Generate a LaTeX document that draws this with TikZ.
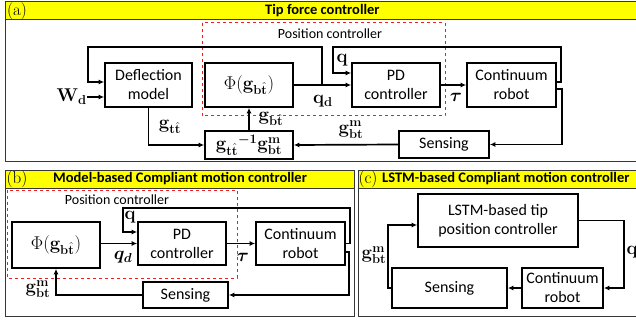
\RequirePackage{fix-cm}
\documentclass[tikz,border=0pt]{standalone}
\usepackage{amsmath,bm}
\usepackage[no-math]{fontspec}
\newfontfamily\carlito{Carlito}
\usetikzlibrary{arrows.meta,calc}
\definecolor{HeadYellow}{RGB}{255,255,0}
\definecolor{FrameGray}{RGB}{55,55,55}
\definecolor{PosRed}{RGB}{240,30,30}
\tikzset{
  blk/.style={draw=black,line width=1.7pt,align=center,inner sep=0pt,
    font=\carlito\fontsize{16}{19}\selectfont},
  mblk/.style={blk,font=\fontsize{18.5}{21}\selectfont},
  lab/.style={inner sep=0pt,font=\fontsize{18.5}{21}\selectfont},
  arr/.style={draw=black,line width=1.7pt,-{Latex[length=5.5pt,width=5pt]}},
}
\tikzset{frame/.style={draw=FrameGray,line width=1pt}, bar/.style={fill=HeadYellow,draw=FrameGray,line width=1pt},
  head/.style={anchor=west,inner sep=0pt,font=\carlito\bfseries\fontsize{14.5}{16}\selectfont},
  tag/.style={inner sep=0pt,font=\fontsize{17}{18}\selectfont},
  poscon/.style={draw=PosRed,dashed,line width=1pt},
  sub/.style={inner sep=0pt,font=\carlito\fontsize{14}{16}\selectfont}}

\begin{document}
\begin{tikzpicture}[x=1pt,y=-1pt]
\useasboundingbox (0,0) rectangle (636,323);
\draw[frame] (5,2) rectangle (640,161);
\draw[bar] (5,2) rectangle (640,20);
\node[tag] (tagA) at (17,11) {(a)};
\node[head] (headA) at (265,11) {Tip force controller};
\draw[poscon] (202,23) rectangle (445,116);
\node[sub] (posA) at (330,34) {Position controller};
\node[blk,minimum width=87pt,minimum height=44pt] (defl) at (148.5,85) {Deflection\\model};
\node[mblk,minimum width=88pt,minimum height=44pt] (phiA) at (249,85) {$\Phi(\mathbf{g}_{\mathbf{b}\hat{\mathbf{t}}})$};
\node[blk,minimum width=88pt,minimum height=44pt] (pdA) at (396,85) {PD\\controller};
\node[blk,minimum width=89pt,minimum height=44pt] (robA) at (511.5,85) {Continuum\\robot};
\node[mblk,minimum width=88pt,minimum height=28pt] (invA) at (249,145) {${\mathbf{g}_{\mathbf{t}\hat{\mathbf{t}}}}^{\boldsymbol{-1}}\mathbf{g}^{\mathbf{m}}_{\mathbf{bt}}$};
\node[blk,minimum width=90pt,minimum height=27pt] (sensA) at (444,144.5) {Sensing};
\node[lab,anchor=east] (wd) at (87,97) {$\mathbf{W}_{\mathbf{d}}$};
\coordinate (splitA) at (322,85);
\coordinate (loopA) at (88,47);
\coordinate (qtopA) at (333,47);
\draw[arr] (wd.east) -- (wd.east -| defl.west);
\draw[arr] (splitA) |- (loopA) |- ([yshift=3pt]defl.west);
\draw[arr] (defl.south) |- (invA.west);
\draw[arr] (invA.north) -- (phiA.south);
\draw[arr] (phiA.east) -- (pdA.west);
\draw[arr] (pdA.east) -- (robA.west);
\draw[arr] ([yshift=3pt]robA.east) -- ++(4,0) |- (qtopA) |- ([yshift=12pt]pdA.west);
\draw[arr] ([yshift=-4pt]robA.east) -- ++(5,0) |- (sensA.east);
\draw[arr] (sensA.west) -- (invA.east);
\node[lab] (gttA) at (170,127) {$\mathbf{g}_{\mathbf{t}\hat{\mathbf{t}}}$};
\node[lab] (gbtA) at (271,119) {$\mathbf{g}_{\mathbf{b}\hat{\mathbf{t}}}$};
\node[lab] (gmA) at (351,130) {$\mathbf{g}^{\mathbf{m}}_{\mathbf{bt}}$};
\node[lab] (qdA) at (323,101) {$\mathbf{q}_{\mathbf{d}}$};
\node[lab] (qA) at (342,60) {$\mathbf{q}$};
\node[lab] (tauA) at (456,97) {$\boldsymbol{\tau}$};
\draw[frame] (5,170) rectangle (354,316);
\draw[bar] (5,170) rectangle (354,188);
\node[tag] (tagB) at (17,179) {(b)};
\node[head] (headB) at (53,179) {Model-based Compliant motion controller};
\draw[poscon] (7,190) rectangle (237,278);
\node[sub] (posB) at (117,200) {Position controller};
\node[mblk,minimum width=88pt,minimum height=46pt] (phiB) at (56,245) {$\Phi(\mathbf{g}_{\mathbf{b}\hat{\mathbf{t}}})$};
\node[blk,minimum width=88pt,minimum height=43pt] (pdB) at (182,243.5) {PD\\controller};
\node[blk,minimum width=89pt,minimum height=43pt] (robB) at (300.5,243.5) {Continuum\\robot};
\node[blk,minimum width=85pt,minimum height=26pt] (sensB) at (185.5,295) {Sensing};
\coordinate (qtopB) at (123,208);
\draw[arr] (phiB.east |- pdB.west) -- (pdB.west);
\draw[arr] (pdB.east) -- (robB.west);
\draw[arr] (robB.east) -- ++(4,0) |- (qtopB) |- ([yshift=11.5pt]pdB.west);
\draw[arr] ([yshift=-8.5pt]robB.east) -- ++(3,0) |- (sensB.east);
\draw[arr] (sensB.west) -| (phiB.south);
\node[lab] (qdB) at (123,257) {$\bm{q}_{\bm{d}}$};
\node[lab] (qB) at (130,217) {$\mathbf{q}$};
\node[lab] (tauB) at (243,257) {$\boldsymbol{\tau}$};
\node[lab] (gmB) at (38,289) {$\mathbf{g}^{\mathbf{m}}_{\mathbf{bt}}$};
\draw[frame] (358,170) rectangle (640,316);
\draw[bar] (358,170) rectangle (640,188);
\node[tag] (tagC) at (368,179) {(c)};
\node[head] (headC) at (382,179) {LSTM-based Compliant motion controller};
\node[blk,minimum width=160pt,minimum height=53pt] (lstm) at (498,220.5) {LSTM-based tip\\position controller};
\node[blk,minimum width=115pt,minimum height=40pt] (sensC) at (449.5,288) {Sensing};
\node[blk,minimum width=81pt,minimum height=40pt] (robC) at (562.5,288) {Continuum\\robot};
\draw[arr] (lstm.east) -- ++(45,0) |- (robC.east);
\draw[arr] (robC.west) -- (sensC.east);
\draw[arr] (sensC.west) -- ++(-3,0) |- ([yshift=-4.5pt]lstm.west);
\node[lab] (qC) at (632,252) {$\mathbf{q}$};
\node[lab] (gmC) at (374,255) {$\mathbf{g}^{\mathbf{m}}_{\mathbf{bt}}$};
\end{tikzpicture}
\end{document}
